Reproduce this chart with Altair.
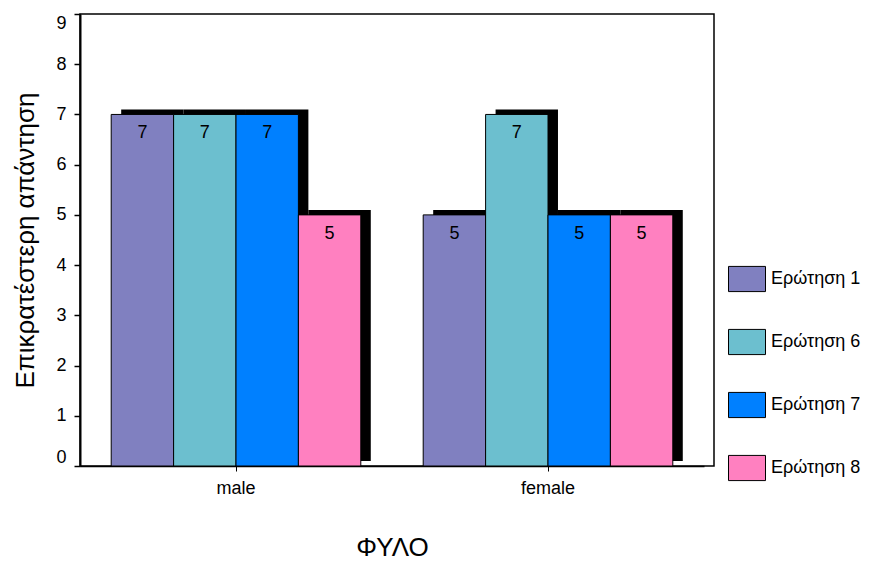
import altair as alt
import pandas as pd

genders = ["male", "female"]
questions = ["Ερώτηση 1", "Ερώτηση 6", "Ερώτηση 7", "Ερώτηση 8"]
colors = ["#8080C0", "#6CBFCF", "#0080FF", "#FF80C0"]
male_values = [7, 7, 7, 5]
female_values = [5, 7, 5, 5]

rows = []
for g, vals in zip(genders, [male_values, female_values]):
    for q, v in zip(questions, vals):
        rows.append({"gender": g, "question": q, "value": v})
df = pd.DataFrame(rows)

FONT = "Liberation Sans"

x_enc = alt.X("gender:N", sort=genders, scale=alt.Scale(range=[0, 624], paddingInner=0, paddingOuter=0),
              axis=alt.Axis(title="ΦΥΛΟ", labelAngle=0, labelFontSize=18, titleFontSize=26,
                            titleFontWeight="normal", labelPadding=8, titlePadding=37,
                            tickSize=5, domainColor="black", domainWidth=1.5, tickColor="black",
                            labelColor="black", titleColor="black", labelFont=FONT, titleFont=FONT))
xoff = alt.XOffset("question:N", sort=questions,
                   scale=alt.Scale(type="band", paddingInner=0, paddingOuter=0.5))
xoff_shadow = alt.XOffset("question:N", sort=questions,
                          scale=alt.Scale(type="band", paddingInner=0, paddingOuter=0.5, align=0.66))
y_enc = alt.Y("value:Q", scale=alt.Scale(domain=[0, 9], nice=False),
              axis=alt.Axis(title="Επικρατέστερη απάντηση", values=list(range(10)), labelFontSize=18,
                            titleFontSize=26, titleFontWeight="normal", grid=False, tickSize=6,
                            labelPadding=8, titlePadding=17, domainColor="black", domainWidth=2,
                            tickColor="black", tickWidth=1.5, labelFlush=True,
                            labelColor="black", titleColor="black", labelFont=FONT, titleFont=FONT))

base = alt.Chart(df)

shadow = base.mark_bar(color="black", yOffset=-5, y2Offset=-5).encode(
    x=x_enc, xOffset=xoff_shadow, y=y_enc
)

bars = base.mark_bar(stroke="black", strokeWidth=1, opacity=1).encode(
    x=x_enc, xOffset=xoff, y=y_enc,
    fill=alt.Fill("question:N", sort=questions,
                  scale=alt.Scale(domain=questions, range=colors),
                  legend=alt.Legend(title=None, orient="none", legendX=648, legendY=246,
                                    symbolType="M-1,-0.68H1V0.68H-1Z", symbolSize=1369,
                                    symbolStrokeColor="black", symbolStrokeWidth=1,
                                    symbolOpacity=1, labelFontSize=18, labelFont=FONT,
                                    labelColor="black", rowPadding=29, labelOffset=5)),
)

labels = base.mark_text(fontSize=18, font=FONT, color="black", baseline="middle", dy=19).encode(
    x=x_enc, xOffset=xoff, y=y_enc, text=alt.Text("value:Q")
)

chart = alt.layer(shadow, bars, labels).resolve_scale(xOffset="independent").properties(
    width=634, height=452,
    autosize=alt.AutoSizeParams(type="none"),
    padding={"left": 72, "top": 6, "right": 153, "bottom": 94},
).configure(background="white").configure_view(stroke="black", strokeWidth=1.5)

chart.save("out.html", embed_options={"renderer": "svg", "actions": False})
